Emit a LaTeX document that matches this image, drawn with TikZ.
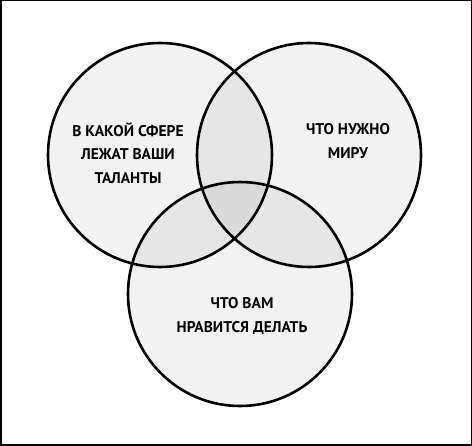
\documentclass[tikz,border=0pt]{standalone}
\usepackage{fontspec}
\setmainfont{PT Sans}
\usepackage{tikz}

\tikzset{
  venn/.style={draw=black, line width=2.6pt, circle, minimum size=224pt,
    fill=black, fill opacity=0.05, text opacity=1},
  label/.style={align=center, font=\bfseries\fontsize{15.5}{23.5}\selectfont}
}

\begin{document}
\begin{tikzpicture}[x=1pt, y=-1pt]
\useasboundingbox (0,0) rectangle (472,446);
\draw[line width=1.5pt] (0.75,0.75) rectangle (471.25,445.25);
\node[venn] (talents) at (160,155) {};
\node[venn] (world) at (309,155) {};
\node[venn] (like) at (240,294) {};
\node[label] (talentstext) at (128,153) {В КАКОЙ СФЕРЕ\\ЛЕЖАТ ВАШИ\\ТАЛАНТЫ};
\node[label] (worldtext) at (348,141) {ЧТО НУЖНО\\МИРУ};
\node[label] (liketext) at (242,316) {ЧТО ВАМ\\НРАВИТСЯ ДЕЛАТЬ};
\end{tikzpicture}
\end{document}
